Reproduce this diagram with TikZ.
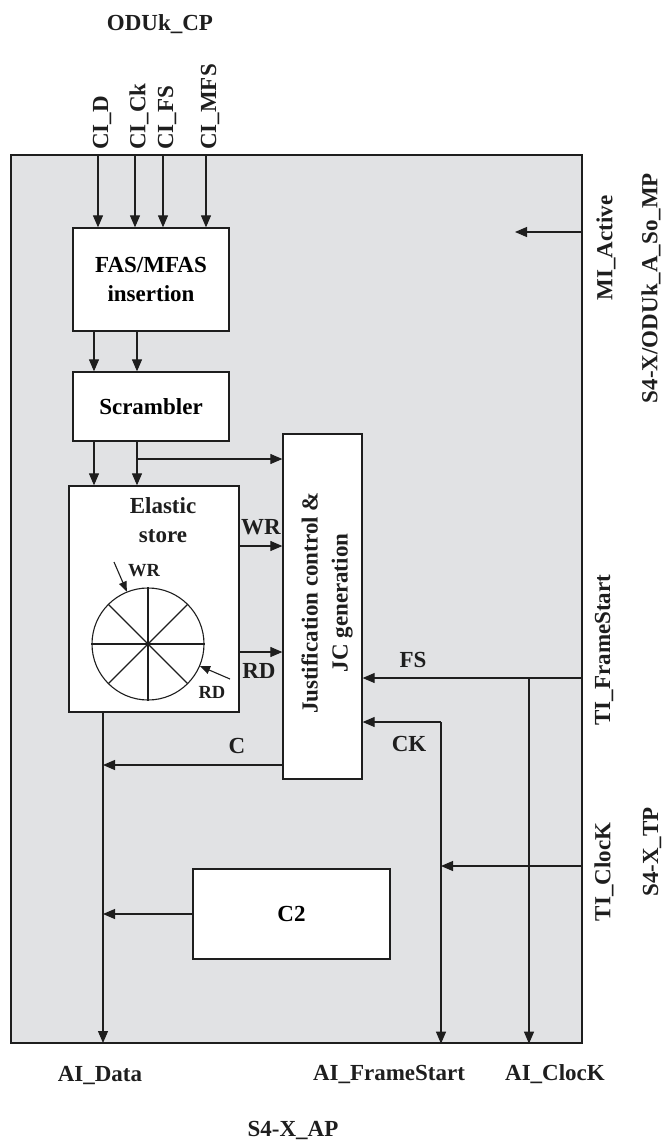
\documentclass[tikz,border=0pt]{standalone}
\usepackage{fontspec}
\setmainfont{Liberation Serif}
\usetikzlibrary{arrows.meta}
\definecolor{bg}{RGB}{225,226,228}
\definecolor{ink}{RGB}{30,30,30}
\begin{document}
\begin{tikzpicture}[x=1pt,y=-1pt,
  box/.style={draw=ink,line width=1.3pt,fill=white,inner sep=0pt,align=center,
    font=\fontsize{23}{29}\selectfont\bfseries},
  arr/.style={draw=ink,line width=1.1pt,-{Triangle[length=12pt,width=10pt]}},
  sarr/.style={draw=ink,line width=1.1pt,-{Triangle[length=10pt,width=8pt]}},
  lbl/.style={font=\fontsize{23}{28}\selectfont\bfseries,inner sep=0pt,text=ink},
  vlbl/.style={lbl,rotate=90},
  small/.style={font=\fontsize{18.5}{22}\selectfont\bfseries,inner sep=0pt,text=ink}]
\useasboundingbox (0,0) rectangle (662,1144);

% system box
\node[draw=ink,line width=1.3pt,fill=bg,minimum width=571pt,minimum height=888pt,inner sep=0pt] (sys) at (296.5,599) {};

% blocks
\node[box,minimum width=156pt,minimum height=103pt] (fas) at (151,279.5) {FAS/MFAS\\insertion};
\node[box,minimum width=156pt,minimum height=69pt] (scr) at (151,406.5) {Scrambler};
\node[box,minimum width=170pt,minimum height=226pt] (es) at (154,599) {};
\node[box,minimum width=79pt,minimum height=345pt] (jc) at (322.5,606.5) {};
\node[box,minimum width=197pt,minimum height=90pt] (c2) at (291.5,914) {C2};

% texts inside blocks
\node[lbl,align=center,font=\fontsize{23}{29}\selectfont\bfseries] (estxt) at (163,520) {Elastic\\store};
\node[lbl,align=center,rotate=90,font=\fontsize{23}{30}\selectfont\bfseries] (jctxt) at (327,603) {Justification control \&\\JC generation};

% ring buffer
\node[draw=ink,line width=1.1pt,circle,minimum size=112pt,inner sep=0pt] (ring) at (148,644) {};
\draw[ink,line width=1.1pt] (ring.0) -- (ring.180);
\draw[ink,line width=1.1pt] (ring.45) -- (ring.225);
\draw[ink,line width=1.1pt] (ring.90) -- (ring.270);
\draw[ink,line width=1.1pt] (ring.135) -- (ring.315);
\coordinate (wrs) at (114,562);
\coordinate (rds) at (230,679);
\draw[sarr] (wrs) -- (ring.112);
\draw[sarr] (rds) -- (ring.-23);
\node[small] (wrl) at (144,571) {WR};
\node[small] (rdl) at (212,692) {RD};

% top labels and inputs
\node[lbl,anchor=base] (odu) at (160,30) {ODUk\_CP};
\node[vlbl,anchor=west] (lD) at (102,150) {CI\_D};
\node[vlbl,anchor=west] (lCk) at (139,150) {CI\_Ck};
\node[vlbl,anchor=west] (lFS) at (167,150) {CI\_FS};
\node[vlbl,anchor=west] (lMFS) at (210,150) {CI\_MFS};
\coordinate (iD) at (98,155);
\coordinate (iCk) at (135,155);
\coordinate (iFS) at (163,155);
\coordinate (iMFS) at (206,155);
\draw[arr] (iD) -- (iD |- fas.north);
\draw[arr] (iCk) -- (iCk |- fas.north);
\draw[arr] (iFS) -- (iFS |- fas.north);
\draw[arr] (iMFS) -- (iMFS |- fas.north);

% fas -> scrambler -> elastic store
\draw[arr] ([xshift=-57pt]fas.south) -- ([xshift=-57pt]scr.north);
\draw[arr] ([xshift=-14pt]fas.south) -- ([xshift=-14pt]scr.north);
\coordinate (s1) at ([xshift=-57pt]scr.south);
\coordinate (s2) at ([xshift=-14pt]scr.south);
\draw[arr] (s1) -- (s1 |- es.north);
\draw[arr] (s2) -- (s2 |- es.north);
\coordinate (br) at (137,459);
\draw[arr] (br) -- (br -| jc.west);

% elastic store -> justification
\coordinate (wrA) at ([yshift=53pt]es.east);
\coordinate (rdA) at ([yshift=-53pt]es.east);
\draw[arr] (wrA) -- (wrA -| jc.west);
\draw[arr] (rdA) -- (rdA -| jc.west);
\node[lbl] (wrlab) at (261,527) {WR};
\node[lbl] (rdlab) at (259,671) {RD};

% data path
\coordinate (dtop) at (103,712);
\coordinate (dbot) at (103,1043);
\draw[arr] (dtop) -- (dbot);
\coordinate (jcC) at ([yshift=-158.5pt]jc.west);
\draw[arr] (jcC) -- (jcC -| dtop);
\node[lbl] (clab) at (237,746) {C};
\draw[arr] (c2.west) -- (c2.west -| dtop);

% timing
\coordinate (fsR) at (582,678);
\coordinate (fsJ) at (529,678);
\draw[arr] (fsR) -- (fsR -| jc.east);
\draw[arr] (fsJ) -- (fsJ |- sys.south);
\node[lbl] (fslab) at (413,660) {FS};
\coordinate (ckJ) at (441,722);
\draw[arr] (ckJ) -- (ckJ -| jc.east);
\draw[arr] (ckJ) -- (ckJ |- sys.south);
\node[lbl] (cklab) at (409,744) {CK};
\coordinate (tcR) at (582,866);
\draw[arr] (tcR) -- (tcR -| ckJ);

% MI
\coordinate (miR) at (582,232);
\coordinate (miE) at (515,232);
\draw[arr] (miR) -- (miE);

% right labels
\node[vlbl] (mia) at (606,248) {MI\_Active};
\node[vlbl] (mp) at (651,288) {S4-X/ODUk\_A\_So\_MP};
\node[vlbl] (tfs) at (604,650) {TI\_FrameStart};
\node[vlbl] (tck) at (604,872) {TI\_ClocK};
\node[vlbl] (tp) at (652,852) {S4-X\_TP};

% bottom labels
\node[lbl,anchor=base] (aid) at (100,1081) {AI\_Data};
\node[lbl,anchor=base] (aifs) at (389,1080) {AI\_FrameStart};
\node[lbl,anchor=base] (aick) at (555,1080) {AI\_ClocK};
\node[lbl,anchor=base] (ap) at (293,1136) {S4-X\_AP};
\end{tikzpicture}
\end{document}
